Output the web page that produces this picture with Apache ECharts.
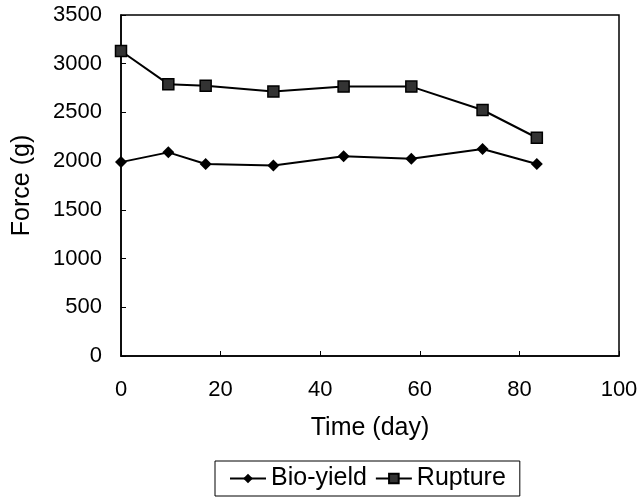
<!DOCTYPE html>
<html>
<head>
	<meta charset="utf-8">
	<title>Force vs time</title>
	<script src="https://cdn.jsdelivr.net/npm/echarts@6/dist/echarts.min.js"></script>
	<style type="text/css">
		html, body {
			margin: 0;
			height: 100%;
			background: #fff;
		}
	</style>
</head>
<body>
	<div id="main" style="width: 644px;height:500px;"></div>
	<script type="text/javascript">

		// 数据
		var days = [0, 9.5, 17, 30.6, 44.7, 58.3, 72.6, 83.5];
		var bioYield = [1990, 2090, 1970, 1955, 2050, 2025, 2125, 1970];
		var rupture = [3130, 2790, 2775, 2715, 2765, 2765, 2525, 2240];
		var yTicks = [0, 500, 1000, 1500, 2000, 2500, 3000, 3500];
		var xTicks = [0, 20, 40, 60, 80, 100];

		function pairs(xs, ys) {
			var list = [];
			for (var i = 0; i < xs.length; i++) {
				list.push([xs[i], ys[i]]);
			}
			return list;
		}

		function plain(v) { return String(v); }

		var font = 'Liberation Sans, Arial, sans-serif';

		var myChart = echarts.init(document.getElementById('main'));
		var option = {
			backgroundColor: '#fff',
			animation: false,
			textStyle: { fontFamily: font, color: '#000' },
			grid: {
				left: 121,
				right: 25,
				top: 15,
				bottom: 144,
				show: true,
				borderColor: '#000',
				borderWidth: 1.5
			},
			xAxis: {
				type: 'value',
				min: xTicks[0],
				max: xTicks[xTicks.length - 1],
				interval: 20,
				name: 'Time (day)',
				nameLocation: 'middle',
				nameGap: 60,
				nameTextStyle: { fontSize: 25, color: '#000', fontFamily: font },
				axisLine: { lineStyle: { color: '#000', width: 1.5 } },
				axisTick: { inside: true, length: 5, lineStyle: { color: '#000' } },
				axisLabel: { fontSize: 22, color: '#000', margin: 23, fontFamily: font, formatter: plain },
				splitLine: { show: false }
			},
			yAxis: {
				type: 'value',
				min: yTicks[0],
				max: yTicks[yTicks.length - 1],
				interval: 500,
				name: 'Force (g)',
				nameLocation: 'middle',
				nameGap: 86,
				nameTextStyle: { fontSize: 25, color: '#000', fontFamily: font },
				axisLine: { show: true, lineStyle: { color: '#000', width: 1.5 } },
				axisTick: { show: true, inside: true, length: 5, lineStyle: { color: '#000' } },
				axisLabel: { fontSize: 22, color: '#000', margin: 19, fontFamily: font, formatter: plain },
				splitLine: { show: false }
			},
			legend: {
				bottom: 4,
				left: 215,
				itemWidth: 36,
				itemHeight: 12,
				itemGap: 8,
				padding: [5, 14],
				borderColor: '#000',
				borderWidth: 1,
				textStyle: { fontSize: 25, color: '#000', fontFamily: font },
				data: ['Bio-yield', 'Rupture']
			},
			series: [
				{
					name: 'Bio-yield',
					type: 'line',
					data: pairs(days, bioYield),
					symbol: 'diamond',
					symbolSize: 12,
					lineStyle: { color: '#000', width: 2 },
					itemStyle: { color: '#000' }
				},
				{
					name: 'Rupture',
					type: 'line',
					data: pairs(days, rupture),
					symbol: 'rect',
					symbolSize: 11,
					lineStyle: { color: '#000', width: 2 },
					itemStyle: { color: '#333', borderColor: '#000', borderWidth: 1.5 }
				}
			]
		};
		myChart.setOption(option);

	</script>
</body>
</html>
